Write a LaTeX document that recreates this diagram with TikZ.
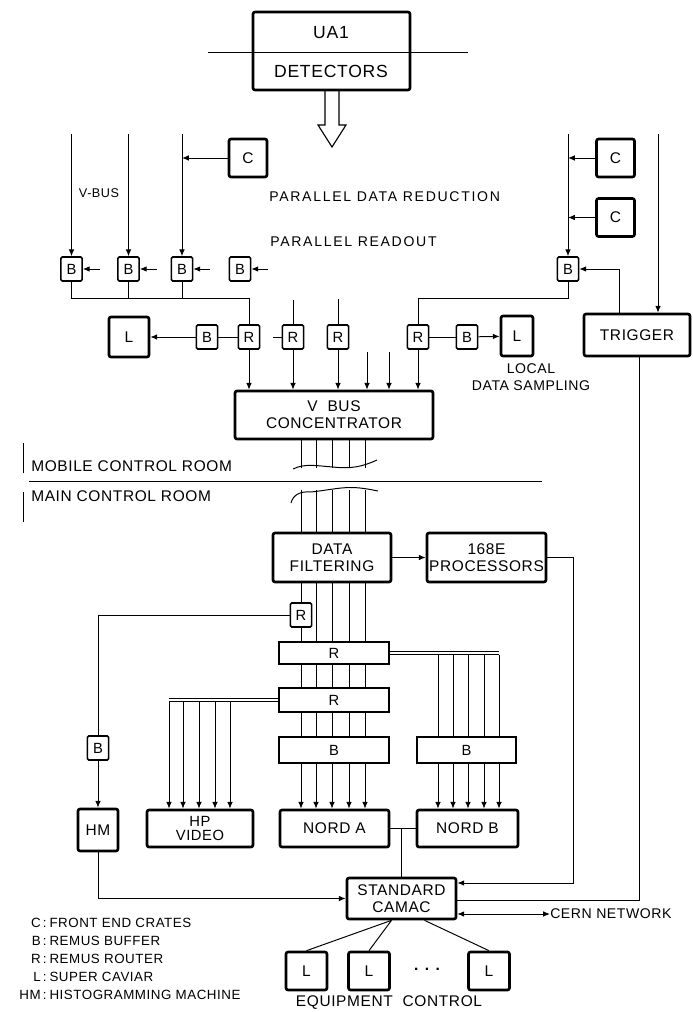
\documentclass[tikz,border=0pt]{standalone}
\usepackage{fontspec}
\setmainfont{Liberation Sans}[LetterSpace=4]
\newfontfamily\widefont{Liberation Sans}[LetterSpace=12]
\usetikzlibrary{arrows.meta,calc}
\tikzset{
  >={Latex[length=1.7mm,width=1.4mm]},
  % lines
  wire/.style={draw=black,line width=0.7pt},
  arr/.style={wire,->},
  twin/.style={draw=black,line width=0.5pt},
  % boxes
  blk/.style={draw,line width=1.9pt,rounded corners=1.5pt,inner sep=0pt,
              align=center,font=\fontsize{11}{12}\selectfont},
  sb/.style={draw,line width=1.1pt,rounded corners=1pt,inner sep=0pt,
             minimum width=0.53cm,minimum height=0.6cm,font=\fontsize{10.5}{11}\selectfont},
  bar/.style={draw,line width=1.1pt,inner sep=0pt,minimum width=2.75cm,
              minimum height=0.6cm,font=\fontsize{10.5}{11}\selectfont},
  lbl/.style={inner sep=0pt,font=\fontsize{10}{12}\selectfont},
  key/.style={inner sep=0pt,font=\fontsize{9.5}{10}\selectfont},
}
\begin{document}
\begin{tikzpicture}[x=0.025cm,y=-0.025cm]
  \useasboundingbox (0,0) rectangle (692,1012);
  % columns of the bus
  \foreach \k/\x in {1/301,2/316,3/332,4/349,5/365} \coordinate (m\k) at (\x,0);
  \foreach \k/\x in {1/438,2/453,3/468,4/484,5/499} \coordinate (n\k) at (\x,0);
  \foreach \k/\x in {1/169,2/183,3/199,4/215,5/230} \coordinate (h\k) at (\x,0);

  % detectors
  \node[blk,minimum width=3.925cm,minimum height=1.95cm] (ua1) at (331.5,51) {};
  \node[lbl,font=\fontsize{12.5}{13}\selectfont] (ua1t) at (331,33) {UA1};
  \node[lbl,font=\fontsize{12.5}{13}\selectfont] (dett) at (331,71) {DETECTORS};
  \coordinate (sepl) at (208,52);
  \coordinate (sepr) at (468,52);
  \draw[wire] (sepl) -- (sepr);
  \draw[line width=0.8pt] (325,90) -- (325,125) -- (318,125) -- (332,147)
    -- (346,125) -- (339,125) -- (339,90);

  % front end
  \node[blk,minimum size=0.95cm] (c1) at (248,158) {C};
  \node[blk,minimum size=0.95cm] (c2) at (615.5,158) {C};
  \node[blk,minimum size=0.95cm] (c3) at (615.5,217.5) {C};
  \node[lbl,font=\fontsize{9}{10}\selectfont] (vbus) at (99,193) {V-BUS};
  \node[lbl,anchor=west,font=\widefont\fontsize{10}{12}\selectfont] (pdr) at (269,197) {PARALLEL DATA REDUCTION};
  \node[lbl,anchor=west,font=\widefont\fontsize{10}{12}\selectfont] (pro) at (270,242) {PARALLEL READOUT};

  \node[sb] (b1) at (71.5,269) {B};
  \node[sb] (b2) at (128.5,269) {B};
  \node[sb] (b3) at (182,269) {B};
  \node[sb] (b4) at (240,269) {B};
  \node[sb] (b5) at (568,269) {B};
  \coordinate (t1) at (71.5,134);
  \coordinate (t2) at (128.5,134);
  \coordinate (t3) at (182,134);
  \coordinate (t4) at (568,134);
  \coordinate (t5) at (658,134);
  \foreach \i in {1,2,3} \draw[arr] (t\i) -- (b\i.north);
  \draw[arr] (t4) -- (b5.north);
  \draw[arr] (c1.west) -- (c1.west -| t3);
  \draw[arr] (c2.west) -- (c2.west -| t4);
  \draw[arr] (c3.west) -- (c3.west -| t4);
  \foreach \b in {b1,b2,b3,b4} \draw[arr] ($(\b.east)+(17,0)$) -- (\b.east);

  \node[blk,minimum width=2.65cm,minimum height=1.05cm] (trig) at (637,335) {TRIGGER};
  \draw[arr] (t5) -- (t5 |- trig.north);
  \draw[arr] ($(trig.north west)+(37,0)$) |- (b5.east);

  % routers
  \node[blk,minimum size=1cm] (lA) at (129,337) {L};
  \node[sb] (bA) at (207,337) {B};
  \node[sb] (rA) at (249,337) {R};
  \node[sb] (rB) at (293,337) {R};
  \node[sb] (rC) at (338,337) {R};
  \node[sb] (rD) at (418,337) {R};
  \node[sb] (bB) at (467,337) {B};
  \node[blk,minimum width=0.8cm,minimum height=1cm] (lB) at (517,336) {L};
  \node[lbl,align=center,font=\fontsize{10}{12.5}\selectfont] (lds) at (531,377) {LOCAL\\DATA SAMPLING};

  \coordinate (busl) at (249,298);
  \coordinate (busr) at (418,298);
  \draw[wire] (b1.south) |- (busl) -- (rA.north);
  \draw[wire] (b2.south) -- (b2.south |- busl);
  \draw[wire] (b3.south) -- (b3.south |- busl);
  \draw[wire] (b5.south) |- (busr) -- (rD.north);
  \draw[arr] (bA) -- (lA);
  \draw[wire] (bA) -- (rA);
  \draw[wire] ($(rB.west)+(-9,0)$) -- (rB.west);
  \draw[wire] ($(rB.north)+(0,-24)$) -- (rB.north);
  \draw[wire] ($(rC.north)+(0,-25)$) -- (rC.north);
  \draw[wire] (rD) -- (bB);
  \draw[arr] (bB) -- (lB);

  \node[blk,minimum width=4.95cm,minimum height=1.2cm] (vbc) at (334,415) {V\ \ BUS\\CONCENTRATOR};
  \foreach \r in {rA,rB,rC,rD} \draw[arr] (\r.south) -- (\r.south |- vbc.north);
  \coordinate (x1) at (367,352);
  \coordinate (x2) at (389,352);
  \draw[arr] (x1) -- (x1 |- vbc.north);
  \draw[arr] (x2) -- (x2 |- vbc.north);
  \foreach \k in {1,...,5} \draw[wire] (vbc.south -| m\k) -- ++(0,28);
  \draw[wire] (293,469) .. controls (305,463) and (318,466) .. (333,467)
    .. controls (350,469) and (362,467) .. (377,460);

  % rooms
  \node[lbl,anchor=west,font=\fontsize{11}{12}\selectfont] (mcr) at (31,466) {MOBILE CONTROL ROOM};
  \node[lbl,anchor=west,font=\fontsize{11}{12}\selectfont] (mnr) at (31,496) {MAIN CONTROL ROOM};
  \draw[wire] (23,443) -- (23,473);
  \draw[wire] (23,492) -- (23,522);
  \draw[wire] (29,481) -- (542,481);

  \draw[wire] (291,503) .. controls (293,495) and (300,491) .. (311,492)
    .. controls (330,490) and (345,486) .. (360,488) .. controls (368,489) .. (378,491);
  \node[blk,minimum width=2.95cm,minimum height=1.225cm] (df) at (332,557.5) {DATA\\FILTERING};
  \node[blk,minimum width=2.975cm,minimum height=1.225cm] (proc) at (486.5,557.5) {168E\\PROCESSORS};
  \foreach \k in {1,...,5} \draw[wire] (df.north -| m\k) -- ++(0,-42);
  \draw[arr] (df) -- (proc);

  % main stack
  \node[sb] (rs) at (301,615) {R};
  \node[bar,minimum height=0.55cm] (rr1) at (334,653) {R};
  \node[bar] (rr2) at (334,700) {R};
  \node[bar,minimum height=0.65cm] (bb1) at (334,750) {B};
  \node[bar,minimum width=2.475cm,minimum height=0.65cm] (bb2) at (466.5,750) {B};
  \node[sb] (bh) at (98,748) {B};

  \node[blk,minimum width=1cm,minimum height=1.05cm] (hm) at (98,830) {HM};
  \node[blk,minimum width=2.65cm,minimum height=0.925cm,font=\fontsize{10.5}{10.5}\selectfont] (hpv) at (200,828.5) {HP\\VIDEO};
  \node[blk,minimum width=2.725cm,minimum height=0.925cm] (norda) at (334.5,828.5) {NORD A};
  \node[blk,minimum width=2.525cm,minimum height=0.925cm] (nordb) at (467.5,828.5) {NORD B};
  \node[blk,minimum width=2.725cm,minimum height=1.025cm] (camac) at (401.5,898.5) {STANDARD\\CAMAC};

  \draw[wire] (df.south -| m1) -- (rs.north);
  \draw[wire] (rs.south) -- (rr1.north -| m1);
  \foreach \k in {2,...,5} \draw[wire] (df.south -| m\k) -- (rr1.north -| m\k);
  \foreach \k in {1,...,5} {
    \draw[wire] (rr1.south -| m\k) -- (rr2.north -| m\k);
    \draw[wire] (rr2.south -| m\k) -- (bb1.north -| m\k);
    \draw[arr] (bb1.south -| m\k) -- (norda.north -| m\k);
    \draw[wire] ($(rr1.east -| n\k)+(0,1.5)$) -- (bb2.north -| n\k);
    \draw[arr] (bb2.south -| n\k) -- (nordb.north -| n\k);
    \draw[arr] ($(rr2.west -| h\k)+(0,1.5)$) -- (hpv.north -| h\k);
  }
  % twin lines out of the routers
  \draw[twin] ($(rr1.east)+(0,-1.5)$) -- ($(rr1.east -| n5)+(0,-1.5)$);
  \draw[twin] ($(rr1.east)+(0,1.5)$) -- ($(rr1.east -| n5)+(0,1.5)$);
  \draw[twin] ($(rr2.west)+(0,-1.5)$) -- ($(rr2.west -| h1)+(0,-1.5)$);
  \draw[twin] ($(rr2.west)+(0,1.5)$) -- ($(rr2.west -| h1)+(0,1.5)$);

  \draw[wire] (rs.west) -| (bh.north);
  \draw[arr] (bh) -- (hm);
  \draw[arr] (hm.south) |- (camac.west);
  \draw[wire] (norda.east) -- (nordb.west);
  \draw[wire] (norda.east -| camac.north) -- (camac.north);

  \coordinate (pcor) at (573,883);
  \coordinate (tcor) at (639,900);
  \draw[arr] (proc.east) -| (pcor) -- (pcor -| camac.east);
  \draw[wire] (trig.south -| tcor) -- (tcor) -- (tcor -| camac.east);
  \node[lbl,anchor=west] (cern) at (550,914) {CERN NETWORK};
  \draw[wire,<->] (camac.east |- cern.west) -- (cern.west);

  % equipment
  \node[blk,minimum width=1.025cm,minimum height=0.95cm] (l1) at (306.5,971) {L};
  \node[blk,minimum width=1.025cm,minimum height=0.95cm] (l2) at (369,971) {L};
  \node[blk,minimum width=1.025cm,minimum height=0.95cm] (l3) at (489,971) {L};
  \node[lbl,font=\bfseries\fontsize{11}{12}\selectfont] (dots) at (427,969) {. . .};
  \draw[wire] ($(camac.south)+(-10,0)$) -- (l1.north);
  \draw[wire] ($(camac.south)+(-10,0)$) -- (l2.north);
  \draw[wire] ($(camac.south)+(23,0)$) -- (l3.north);
  \node[lbl,font=\fontsize{11}{12}\selectfont] (eqc) at (389,1003) {EQUIPMENT\ \ CONTROL};

  % legend
  \foreach \k/\t [count=\i] in {C/FRONT END CRATES,B/REMUS BUFFER,R/REMUS ROUTER,
      L/SUPER CAVIAR,HM/HISTOGRAMMING MACHINE} {
    \node[key,anchor=base east] (k\i) at (47,910+17.8*\i) {\k\,:};
    \node[key,anchor=base west] (d\i) at (k\i.base east) {\,\t};
  }
\end{tikzpicture}
\end{document}
